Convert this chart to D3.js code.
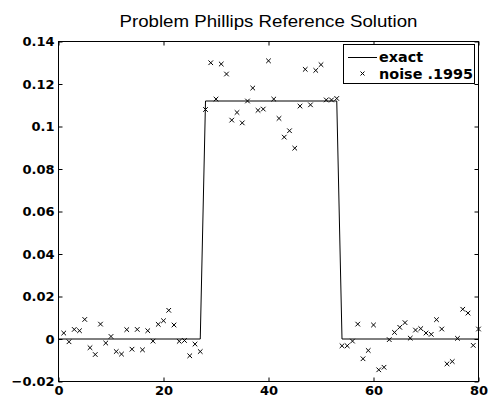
<!DOCTYPE html>
<html><head><meta charset="utf-8">
<script src="https://cdn.jsdelivr.net/npm/d3@7/dist/d3.min.js"></script>
<style>body{margin:0;background:#fff}svg{display:block}</style>
</head><body>
<svg id="c" width="488" height="407"></svg>
<script>
// ---- data ----
const titleText = "Problem Phillips Reference Solution";
const seriesNames = ["exact", "noise .1995"];
const exactX = [0, 27, 28, 53, 54, 80];
const exactY = [0, 0, 0.112, 0.112, 0, 0];
const noiseValues = [
  0.0028, -0.0013, 0.0045, 0.0039, 0.0092, -0.0041, -0.0073, 0.0070, -0.0019, 0.0012,
  -0.0059, -0.0071, 0.0044, -0.0048, 0.0045, -0.0051, 0.0039, -0.0010, 0.0069, 0.0086,
  0.0135, 0.0066, -0.0011, -0.0007, -0.0079, -0.0024, -0.0059, 0.1080, 0.1300, 0.1129,
  0.1294, 0.1247, 0.1030, 0.1066, 0.1017, 0.1120, 0.1181, 0.1076, 0.1082, 0.1309,
  0.1129, 0.1038, 0.0950, 0.0980, 0.0898, 0.1096, 0.1269, 0.1102, 0.1264, 0.1291,
  0.1125, 0.1125, 0.1132, -0.0032, -0.0032, -0.0010, 0.0070, -0.0093, -0.0054, 0.0066,
  -0.0145, -0.0133, -0.0003, 0.0031, 0.0055, 0.0077, 0.0004, 0.0042, 0.0049, 0.0028,
  0.0022, 0.0091, 0.0047, -0.0117, -0.0106, 0.0003, 0.0140, 0.0122, -0.0030, 0.0047
];
const xTicks = [0, 20, 40, 60, 80];
const yTicks = [-0.02, 0, 0.02, 0.04, 0.06, 0.08, 0.1, 0.12, 0.14];
const xTickLabels = ["0", "20", "40", "60", "80"];
const yTickLabels = ["\u22120.02", "0", "0.02", "0.04", "0.06", "0.08", "0.1", "0.12", "0.14"];

// ---- layout ----
const L = 58.5, R = 478.5, T = 41.5, B = 381.5;
const svg = d3.select("#c");
const x = d3.scaleLinear().domain([0, 80]).range([L, R]);
const y = d3.scaleLinear().domain([-0.02, 0.14]).range([B, T]);
const tickFont = "'DejaVu Sans', sans-serif";

// title
svg.append("text")
  .attr("x", (L + R) / 2).attr("y", 27)
  .attr("text-anchor", "middle")
  .attr("font-family", "'Liberation Sans', Arial, sans-serif")
  .attr("font-size", 17)
  .attr("textLength", 298).attr("lengthAdjust", "spacingAndGlyphs")
  .text(titleText);

// axes
function styleAxis(g) {
  g.select(".domain").remove();
  g.selectAll(".tick line").attr("stroke", "#000");
  g.selectAll(".tick text").attr("fill", "#000")
    .attr("font-family", tickFont).attr("font-weight", "bold").attr("font-size", 13);
}
svg.append("g").attr("transform", `translate(0,${B})`)
  .call(d3.axisBottom(x).tickValues(xTicks).tickSize(-4).tickPadding(4)
    .tickFormat((d, i) => xTickLabels[i]))
  .call(styleAxis);
svg.append("g").attr("transform", `translate(${L},0)`)
  .call(d3.axisLeft(y).tickValues(yTicks).tickSize(-4).tickPadding(4)
    .tickFormat((d, i) => yTickLabels[i]))
  .call(styleAxis);
svg.append("g").attr("transform", `translate(0,${T})`)
  .call(d3.axisTop(x).tickValues(xTicks).tickSize(-4).tickFormat(""))
  .call(styleAxis);
svg.append("g").attr("transform", `translate(${R},0)`)
  .call(d3.axisRight(y).tickValues(yTicks).tickSize(-4).tickFormat(""))
  .call(styleAxis);

// box
svg.append("rect").attr("x", L).attr("y", T).attr("width", R - L).attr("height", B - T)
  .attr("fill", "none").attr("stroke", "#000").attr("stroke-width", 1);

// exact line
const line = d3.line().x(d => x(d[0])).y(d => y(d[1]));
svg.append("path").datum(exactX.map((v, i) => [v, exactY[i]]))
  .attr("d", line).attr("fill", "none").attr("stroke", "#000").attr("stroke-width", 1);

// noise markers
const m = 2.3;
const marks = svg.append("g").attr("stroke", "#000").attr("stroke-width", 1);
noiseValues.forEach((v, i) => {
  const cx = x(i + 1), cy = y(v);
  marks.append("path").attr("d", `M${cx - m},${cy - m}L${cx + m},${cy + m}M${cx - m},${cy + m}L${cx + m},${cy - m}`);
});

// legend
const lg = svg.append("g");
lg.append("rect").attr("x", 343.5).attr("y", 44.5).attr("width", 131).attr("height", 39)
  .attr("fill", "#fff").attr("stroke", "#000").attr("stroke-width", 1);
lg.append("line").attr("x1", 348).attr("x2", 377).attr("y1", 57.5).attr("y2", 57.5)
  .attr("stroke", "#000").attr("stroke-width", 1);
const lmx = 362.5, lmy = 73.5, lm = 2;
lg.append("path").attr("d", `M${lmx - lm},${lmy - lm}L${lmx + lm},${lmy + lm}M${lmx - lm},${lmy + lm}L${lmx + lm},${lmy - lm}`)
  .attr("stroke", "#000").attr("stroke-width", 1);
lg.selectAll("text.lt").data(seriesNames).enter().append("text")
  .attr("class", "lt")
  .attr("x", 379).attr("y", (d, i) => 62 + i * 16.5)
  .attr("font-family", tickFont).attr("font-weight", "bold").attr("font-size", 14)
  .attr("textLength", (d, i) => i === 0 ? 44 : 94).attr("lengthAdjust", "spacingAndGlyphs")
  .text(d => d);
</script>
</body></html>
